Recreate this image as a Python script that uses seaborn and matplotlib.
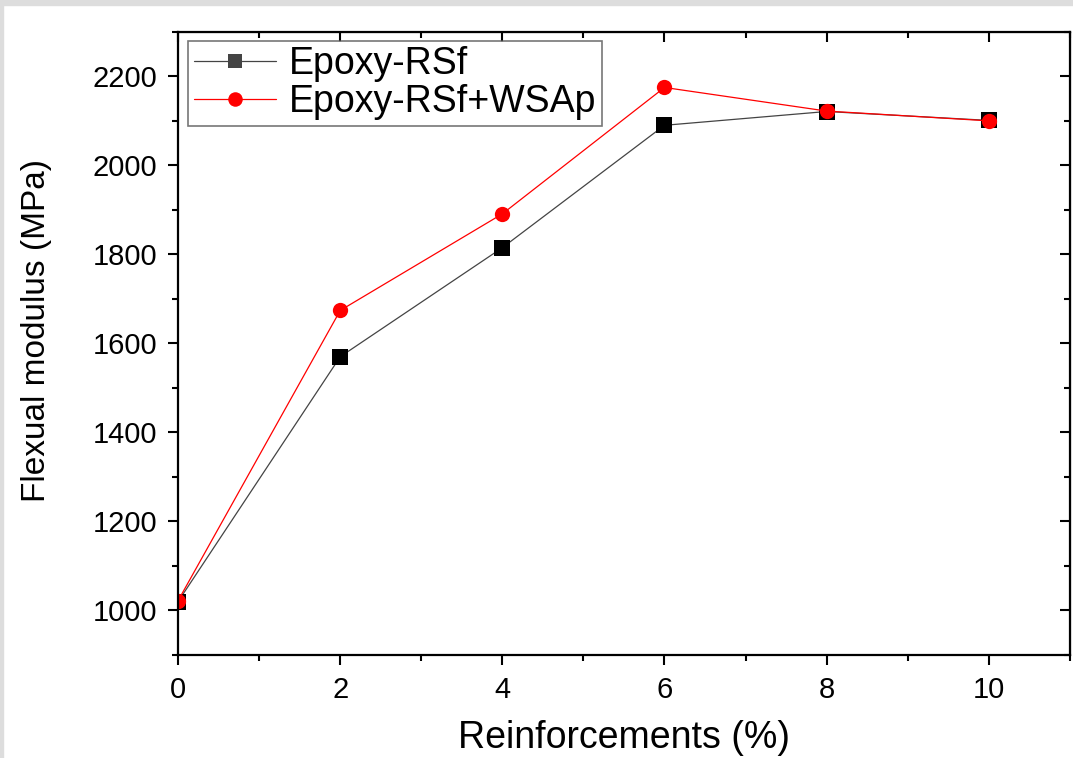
import pandas as pd
import matplotlib
matplotlib.use("Agg")
import matplotlib.pyplot as plt
import seaborn as sns
from matplotlib.ticker import MultipleLocator
from matplotlib.patches import Rectangle

# Waarden
reinforcement = [0, 2, 4, 6, 8, 10]
rsf = [1020, 1570, 1815, 2090, 2121, 2101]
rsf_wsap = [1022, 1674, 1891, 2175, 2122, 2100]
series_names = ["Epoxy-RSf", "Epoxy-RSf+WSAp"]

df = pd.DataFrame({
    "x": reinforcement * 2,
    "y": rsf + rsf_wsap,
    "serie": [series_names[0]] * 6 + [series_names[1]] * 6,
})

sns.set_style("white")
plt.rcParams["font.family"] = ["Liberation Sans", "DejaVu Sans"]
plt.rcParams["text.color"] = "black"
plt.rcParams["axes.labelcolor"] = "black"
plt.rcParams["xtick.color"] = "black"
plt.rcParams["ytick.color"] = "black"

fig = plt.figure(figsize=(10.73, 7.58), dpi=100)
ax = fig.add_axes([0.166, 0.136, 0.831, 0.822])

sns.lineplot(data=df, x="x", y="y", hue="serie", style="serie",
             palette={series_names[0]: "#444444", series_names[1]: "#ff0000"},
             markers={series_names[0]: "s", series_names[1]: "o"},
             dashes=False, linewidth=0.9, markersize=11, markeredgewidth=0,
             ax=ax)

# marker kleuren goed zetten
for line, mc in zip(ax.lines[:2], ["black", "red"]):
    line.set_markerfacecolor(mc)
    line.set_markeredgecolor(mc)

ax.set_xlim(0, 11)
ax.set_ylim(900, 2300)
ax.xaxis.set_major_locator(MultipleLocator(2))
ax.xaxis.set_minor_locator(MultipleLocator(1))
ax.yaxis.set_major_locator(MultipleLocator(200))
ax.yaxis.set_minor_locator(MultipleLocator(100))

ax.tick_params(which="both", bottom=True, left=True, top=False, right=False,
               direction="out", width=1.5, labelsize=21, pad=8)
ax.tick_params(which="major", length=7)
ax.tick_params(which="minor", length=4)
for side in ["left", "bottom", "top", "right"]:
    ax.spines[side].set_linewidth(1.6)
    ax.spines[side].set_color("black")

# ticks binnen aan boven- en rechterkant
sec_x = ax.secondary_xaxis("top")
sec_x.xaxis.set_major_locator(MultipleLocator(2))
sec_x.xaxis.set_minor_locator(MultipleLocator(1))
sec_x.tick_params(which="both", direction="in", labeltop=False, width=1.5)
sec_x.tick_params(which="major", length=7)
sec_x.tick_params(which="minor", length=4)
sec_y = ax.secondary_yaxis("right")
sec_y.yaxis.set_major_locator(MultipleLocator(200))
sec_y.yaxis.set_minor_locator(MultipleLocator(100))
sec_y.tick_params(which="both", direction="in", labelright=False, width=1.5)
sec_y.tick_params(which="major", length=7)
sec_y.tick_params(which="minor", length=4)

ax.set_xlabel("Reinforcements (%)", fontsize=27, labelpad=12)
ax.set_ylabel("Flexual modulus (MPa)", fontsize=24)
ax.yaxis.set_label_coords(-0.142, 0.52)

leg = ax.legend(loc="upper left", bbox_to_anchor=(0.011, 0.986), fontsize=27,
                frameon=True, fancybox=False, edgecolor="#555555",
                handlelength=2.2, handletextpad=0.35, borderpad=0.15,
                labelspacing=0.05, borderaxespad=0.0, markerscale=0.95)
leg.get_frame().set_linewidth(1.2)

# lichtgrijze rand van de afbeelding
fig.patches.append(Rectangle((0, 0.993), 1, 0.007, transform=fig.transFigure,
                             color="#dddddd", zorder=0))
fig.patches.append(Rectangle((0, 0), 0.0025, 1, transform=fig.transFigure,
                             color="#dddddd", zorder=0))

fig.savefig("out.png", dpi=100)
